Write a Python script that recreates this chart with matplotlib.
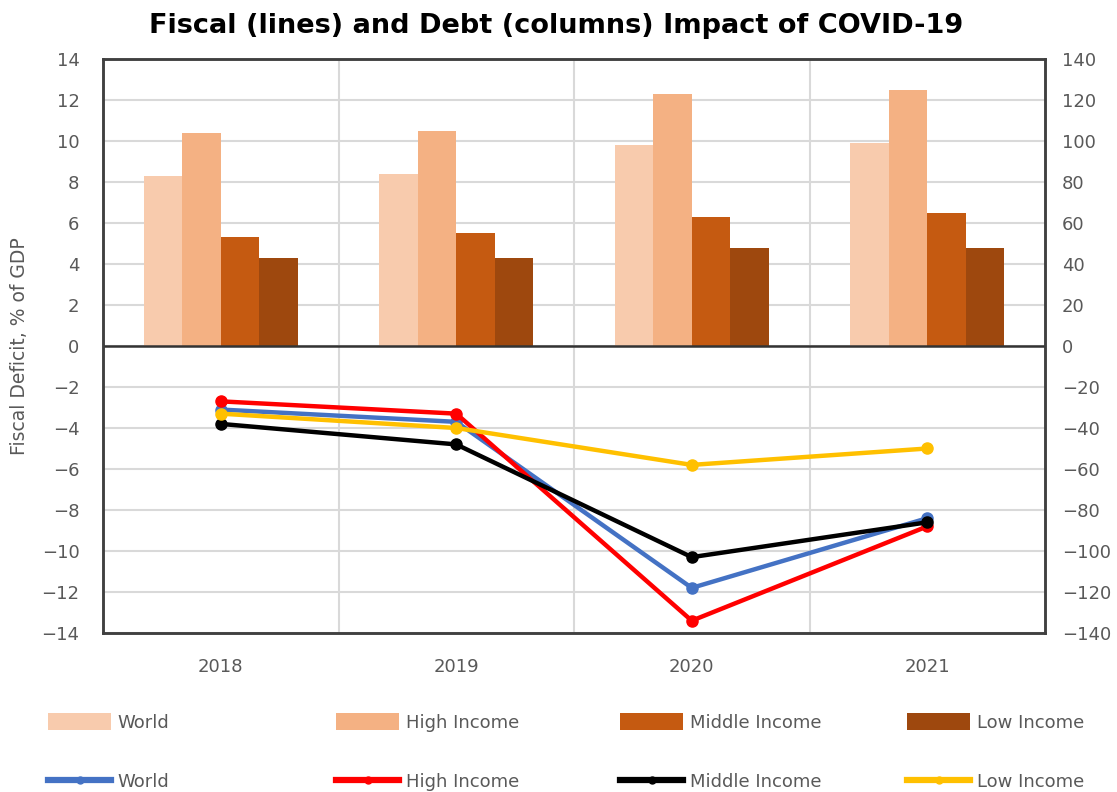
import matplotlib
matplotlib.use("Agg")
import matplotlib.pyplot as plt
import numpy as np
from matplotlib.patches import Patch
from matplotlib.lines import Line2D

plt.rcParams['font.family'] = ['DejaVu Sans']

years = ['2018', '2019', '2020', '2021']
groups = ['World', 'High Income', 'Middle Income', 'Low Income']

# Debt (columns), right axis
debt_world = [83, 84, 98, 99]
debt_high = [104, 105, 123, 125]
debt_middle = [53, 55, 63, 65]
debt_low = [43, 43, 48, 48]

# Fiscal deficit (lines), left axis
fiscal_world = [-3.1, -3.7, -11.8, -8.4]
fiscal_high = [-2.7, -3.3, -13.4, -8.8]
fiscal_middle = [-3.8, -4.8, -10.3, -8.6]
fiscal_low = [-3.3, -4.0, -5.8, -5.0]

bar_colors = ['#F8CBAD', '#F4B183', '#C55A11', '#9E480E']
line_colors = ['#4472C4', '#FF0000', '#000000', '#FFC000']

tick_color = '#595959'
fs = 13

fig = plt.figure(figsize=(11.17, 7.92), dpi=100)
ax = fig.add_axes([103/1117, 1-633/792, (1045-103)/1117, (633-59)/792])
ax2 = ax.twinx()

x = np.arange(len(years))
bw = 0.163
debts = [debt_world, debt_high, debt_middle, debt_low]
for i, (vals, c) in enumerate(zip(debts, bar_colors)):
    ax.bar(x + (i - 1.5) * bw, vals, width=bw, color=c, zorder=2, linewidth=0)

ax.set_xlim(-0.5, len(years) - 0.5)
ax.set_ylim(-140, 140)
ax.set_yticks(np.arange(-140, 141, 20))
ax.set_xticks(x)
ax.set_xticklabels(years)
ax.set_xticks(np.arange(0.5, len(years) - 0.5, 1), minor=True)
ax.grid(True, axis='y', which='major', color='#D9D9D9', linewidth=1.5, zorder=0)
ax.grid(True, axis='x', which='minor', color='#D9D9D9', linewidth=1.5, zorder=0)
ax.set_axisbelow(True)
ax.axhline(0, color='#333333', linewidth=1.8, zorder=3)
ax.yaxis.tick_right()
ax.tick_params(axis='y', which='both', length=0, pad=12, labelsize=fs, labelcolor=tick_color)
ax.tick_params(axis='x', which='both', length=0, pad=18, labelsize=fs, labelcolor=tick_color)

fiscals = [fiscal_world, fiscal_high, fiscal_middle, fiscal_low]
for vals, c in zip(fiscals, line_colors):
    ax2.plot(x, vals, color=c, linewidth=3.2, marker='o', markersize=8, zorder=4)
ax2.set_ylim(-14, 14)
ax2.set_yticks(np.arange(-14, 15, 2))
ax2.yaxis.tick_left()
ax2.yaxis.set_label_position('left')
ax2.tick_params(axis='y', length=0, pad=17, labelsize=fs, labelcolor=tick_color)
ax2.set_ylabel('Fiscal Deficit, % of GDP', fontsize=13.5, color=tick_color, labelpad=9)

for a in (ax, ax2):
    for s in a.spines.values():
        s.set_color('#404040')
        s.set_linewidth(1.8)

title = fig.text(556/1117, 1-26/792, 'Fiscal (lines) and Debt (columns) Impact of COVID-19',
                 ha='center', va='center', fontsize=17, fontweight='bold', color='black')
# fit title width to the reference width (~815 px)
fig.canvas.draw()
w = title.get_window_extent().width
title.set_fontsize(17 * 815 / w)

col_x = [48, 336, 620, 907]
for i in range(4):
    handles = [Patch(facecolor=bar_colors[i], edgecolor='none'),
               Line2D([0], [0], color=line_colors[i], linewidth=4.5, marker='o', markersize=5)]
    fig.legend(handles, [groups[i], groups[i]], loc='upper left',
               bbox_to_anchor=(col_x[i]/1117, 1-713/792), frameon=False,
               fontsize=fs, labelcolor=tick_color, handlelength=3.5, handleheight=1.1,
               handletextpad=0.35, borderpad=0, borderaxespad=0, labelspacing=2.25)

fig.savefig('out.png', dpi=100)
